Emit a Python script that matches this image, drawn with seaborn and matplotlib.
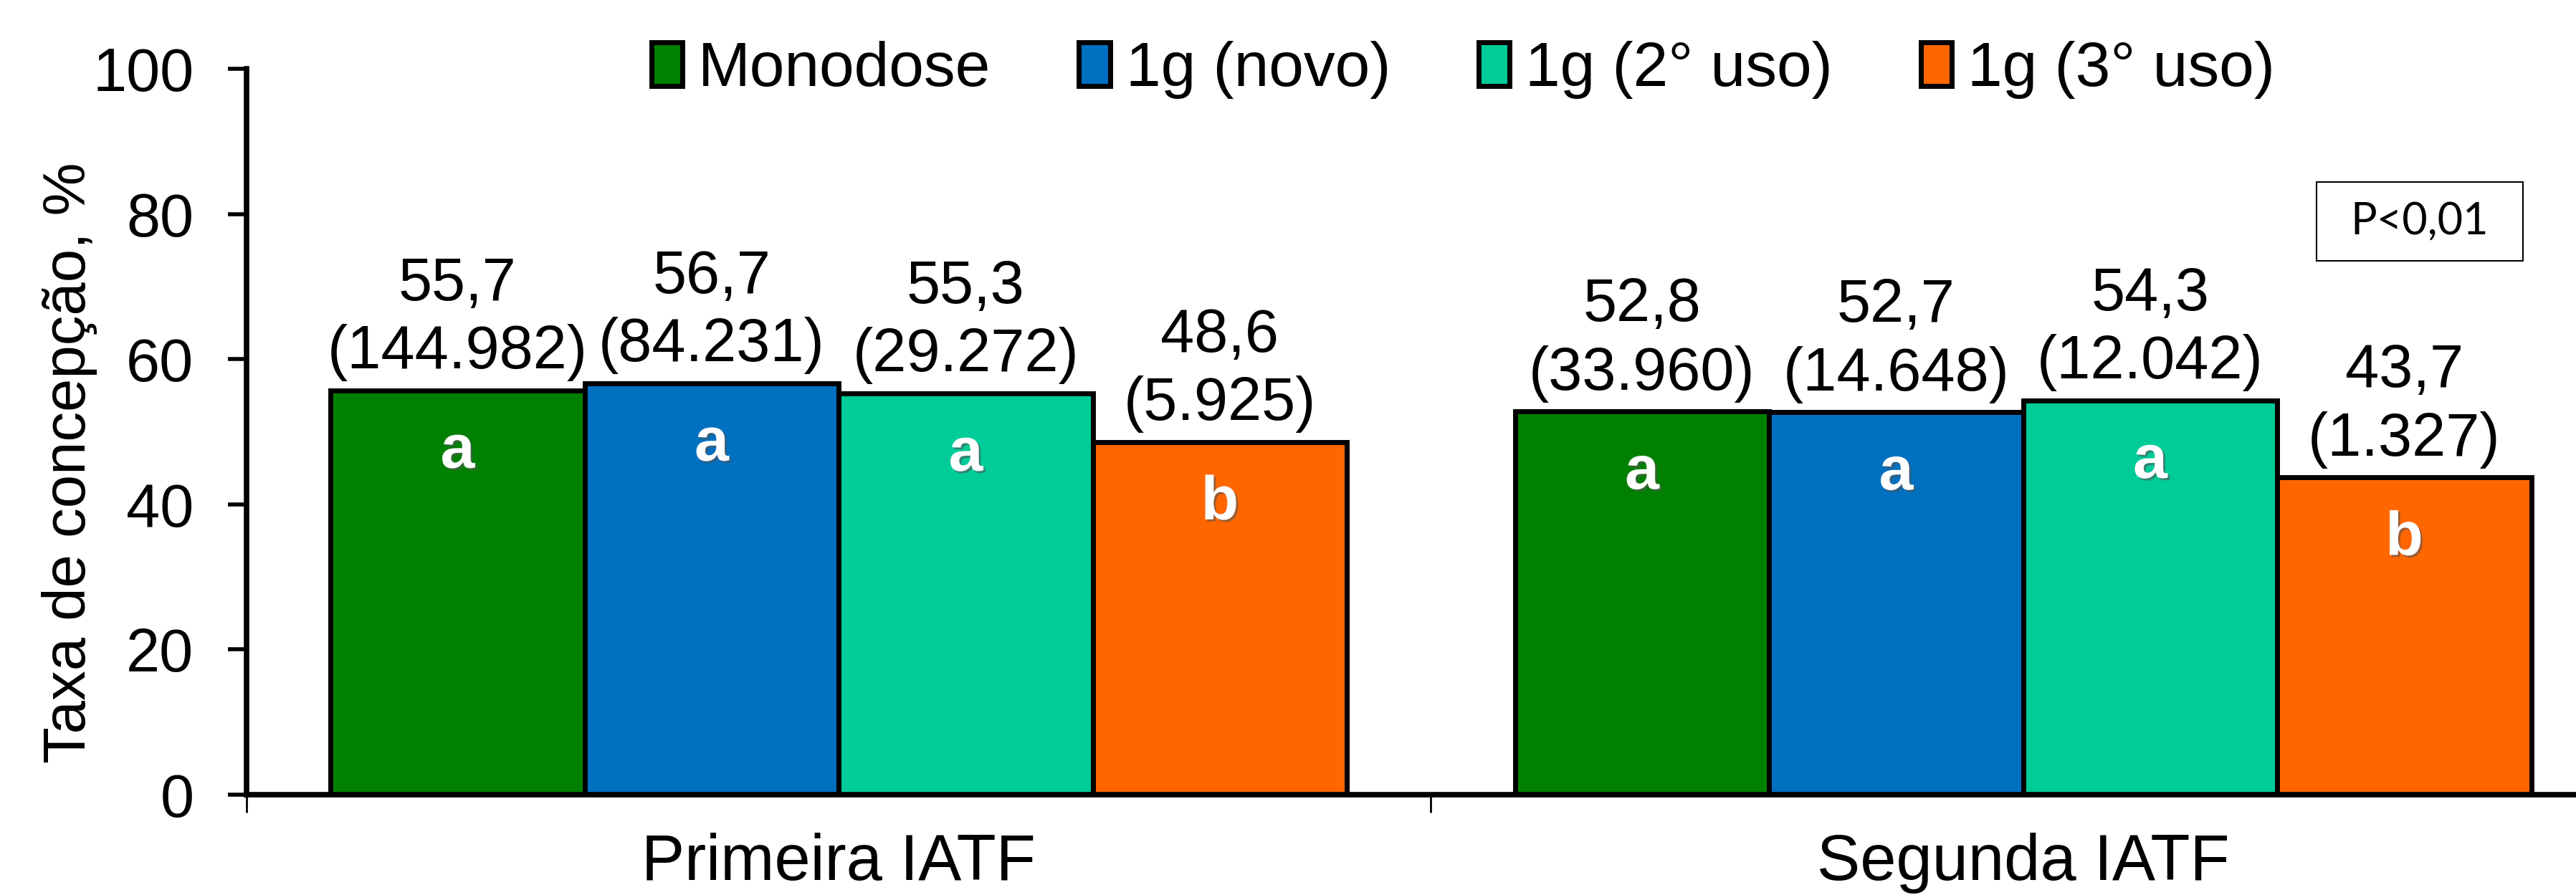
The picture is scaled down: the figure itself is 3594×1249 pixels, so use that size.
import matplotlib
matplotlib.use('Agg')
import matplotlib.pyplot as plt
import matplotlib.patheffects as pe
from matplotlib.patches import Rectangle
import pandas as pd
import seaborn as sns

# dados
inseminacoes = ['Primeira IATF', 'Segunda IATF']
tratamentos = ['Monodose', '1g (novo)', '1g (2° uso)', '1g (3° uso)']
taxa_primeira = [55.7, 56.7, 55.3, 48.6]
taxa_segunda = [52.8, 52.7, 54.3, 43.7]
n_primeira = ['144.982', '84.231', '29.272', '5.925']
n_segunda = ['33.960', '14.648', '12.042', '1.327']
letras_primeira = ['a', 'a', 'a', 'b']
letras_segunda = ['a', 'a', 'a', 'b']
cores = ['#008000', '#0070C0', '#00CC99', '#FF6600']


def main():
    linhas = []
    for ins, taxas, ns, letras in [(inseminacoes[0], taxa_primeira, n_primeira, letras_primeira),
                                   (inseminacoes[1], taxa_segunda, n_segunda, letras_segunda)]:
        for t, v, n, l in zip(tratamentos, taxas, ns, letras):
            linhas.append({'IATF': ins, 'Tratamento': t, 'Taxa': v, 'n': n, 'letra': l})
    df = pd.DataFrame(linhas)

    sns.set_style('white')
    plt.rcParams['font.family'] = ['Liberation Sans', 'DejaVu Sans']
    for k in ['text.color', 'axes.labelcolor', 'xtick.color', 'ytick.color']:
        plt.rcParams[k] = 'black'

    fig = plt.figure(figsize=(35.94, 12.49), dpi=100)
    ax = fig.add_axes([0.0957, 0.1121, 0.9196, 0.811])

    sns.barplot(data=df, x='IATF', y='Taxa', hue='Tratamento', order=inseminacoes,
                hue_order=tratamentos, palette=cores, width=0.858, gap=0,
                edgecolor='black', linewidth=5, saturation=1, errorbar=None, ax=ax)

    # rótulos: valor, (n) e letra
    for i, cont in enumerate(ax.containers):
        trat = tratamentos[i]
        for bar, ins in zip(cont, inseminacoes):
            linha = df[(df['IATF'] == ins) & (df['Tratamento'] == trat)].iloc[0]
            x = bar.get_x() + bar.get_width() / 2
            h = bar.get_height()
            txt = f"{linha['Taxa']:.1f}".replace('.', ',') + f"\n({linha['n']})"
            ax.annotate(txt, (x, h), xytext=(0, 9), textcoords='offset points',
                        ha='center', va='bottom', fontsize=61, linespacing=1.25, color='black')
            ax.annotate(linha['letra'], (x, h), xytext=(0, -62), textcoords='offset points',
                        ha='center', va='center', fontsize=62, fontweight='bold', color='white',
                        path_effects=[pe.withSimplePatchShadow(offset=(2, -2), shadow_rgbFace='#555555', alpha=0.6)])

    ax.set_ylim(0, 100)
    ax.set_yticks(range(0, 101, 20))
    ax.set_xlim(-0.5, 1.5)
    ax.set_xlabel('')
    ax.set_ylabel('Taxa de concepção, %', fontsize=60)
    ax.yaxis.set_label_coords(-0.063, 0.457)

    for s in ['top', 'right']:
        ax.spines[s].set_visible(False)
    ax.spines['left'].set_linewidth(5.5)
    ax.spines['bottom'].set_linewidth(5.5)
    ax.spines['left'].set_color('black')
    ax.spines['bottom'].set_color('black')

    ax.tick_params(axis='y', direction='out', length=19, width=4, pad=34, labelsize=61,
                   left=True, color='black')
    ax.tick_params(axis='x', which='major', length=0, pad=38, labelsize=65)
    ax.set_xticks([-0.5, 0.5, 1.5], minor=True)
    ax.tick_params(axis='x', which='minor', direction='out', length=18, width=2,
                   bottom=True, color='black')

    # legenda no topo
    handles, labels = ax.get_legend_handles_labels()
    ax.get_legend().remove()
    fig.legend(handles, labels, loc='center', bbox_to_anchor=(0.568, 0.922), ncol=4,
               frameon=False, fontsize=63, handlelength=0.5, handleheight=0.7,
               handletextpad=0.25, columnspacing=1.4)

    # caixa P<0,01
    fig.patches.append(Rectangle((0.8993, 0.7086), 0.0801, 0.0881, transform=fig.transFigure,
                                 facecolor='white', edgecolor='black', linewidth=1.5))
    fig.text(0.8993 + 0.0801 / 2, 0.7086 + 0.0881 / 2, 'P<0,01', ha='center', va='center',
             fontsize=44, family=['Lato', 'DejaVu Sans'], color='black')

    fig.savefig('out.png', dpi=100)
    plt.close(fig)


if __name__ == '__main__':
    main()
